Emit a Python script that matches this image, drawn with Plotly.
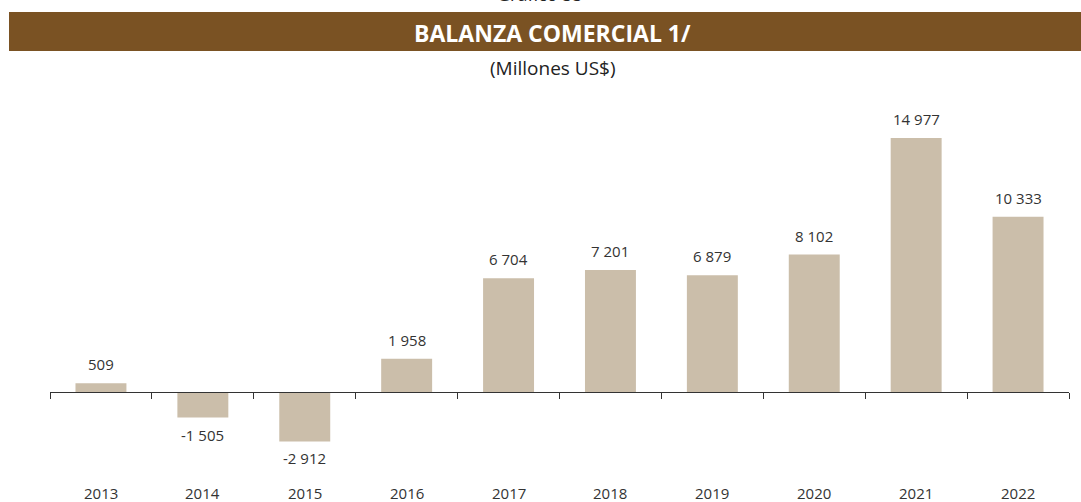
import plotly.graph_objects as go

years = ["2013", "2014", "2015", "2016", "2017", "2018", "2019", "2020", "2021", "2022"]
balance = [509, -1505, -2912, 1958, 6704, 7201, 6879, 8102, 14977, 10333]

title_text = "BALANZA COMERCIAL 1/"
subtitle_text = "(Millones US$)"
header_text = "Gráfico 55"

BAR = "#CBBEAA"
BROWN = "#7A5223"
FONT = "Open Sans, Noto Sans, sans-serif"

# layout geometry (pixels)
W, H = 1081, 502
L, R, T, B = 50, 12, 90, 42
pw, ph = W - L - R, H - T - B

def px_x(x):
    return (x - L) / pw

def px_y(y):
    return (H - B - y) / ph

fig = go.Figure()
fig.add_trace(go.Bar(
    x=years, y=balance,
    marker=dict(color=BAR, line=dict(width=0)),
    hoverinfo="skip",
))

yr = [-4009, 17807]
zero_paper = (0 - yr[0]) / (yr[1] - yr[0])

fig.update_layout(
    width=W, height=H,
    margin=dict(l=L, r=R, t=T, b=B),
    paper_bgcolor="white", plot_bgcolor="white",
    bargap=0.5,
    showlegend=False,
    font=dict(family=FONT, size=14, color="#333333"),
    xaxis=dict(
        type="category", anchor="free", position=zero_paper,
        range=[-0.5, len(years) - 0.5],
        showline=True, linecolor="#333333", linewidth=1,
        ticks="outside", tickson="boundaries", ticklen=6, tickcolor="#333333",
        showticklabels=False, showgrid=False, zeroline=False,
    ),
    yaxis=dict(range=yr, visible=False, showgrid=False, zeroline=False),
    shapes=[dict(
        type="rect", xref="paper", yref="paper",
        x0=px_x(9), x1=px_x(1081), y0=px_y(51), y1=px_y(12),
        fillcolor=BROWN, line=dict(width=0), layer="below",
    )],
)

def fmt(v):
    return "{:,}".format(v).replace(",", " ")

annotations = [
    dict(text="<b>%s</b>" % title_text, xref="paper", yref="paper",
         x=px_x(552), y=px_y(33), yanchor="middle", showarrow=False,
         font=dict(size=23, color="white", family=FONT)),
    dict(text=subtitle_text, xref="paper", yref="paper",
         x=px_x(553), y=px_y(68), yanchor="middle", showarrow=False,
         font=dict(size=19, color="#222222", family=FONT)),
    dict(text=header_text, xref="paper", yref="paper",
         x=px_x(540), y=px_y(8), yanchor="bottom", showarrow=False,
         font=dict(size=18, color="#222222", family=FONT)),
]
for i, (yv, v) in enumerate(zip(years, balance)):
    annotations.append(dict(text=yv, xref="x", yref="paper", x=i, y=px_y(493),
                            yanchor="middle", showarrow=False, borderpad=0,
                            font=dict(size=15, color="#333333", family=FONT)))
    annotations.append(dict(text=fmt(v), xref="x", yref="y", x=i, y=v,
                            yanchor="middle", yshift=19 if v >= 0 else -17,
                            showarrow=False,
                            font=dict(size=15, color="#333333", family=FONT)))
fig.update_layout(annotations=annotations)

fig.write_html("out.html", config={"displayModeBar": False},
               post_script="document.body.style.margin='0px';")
